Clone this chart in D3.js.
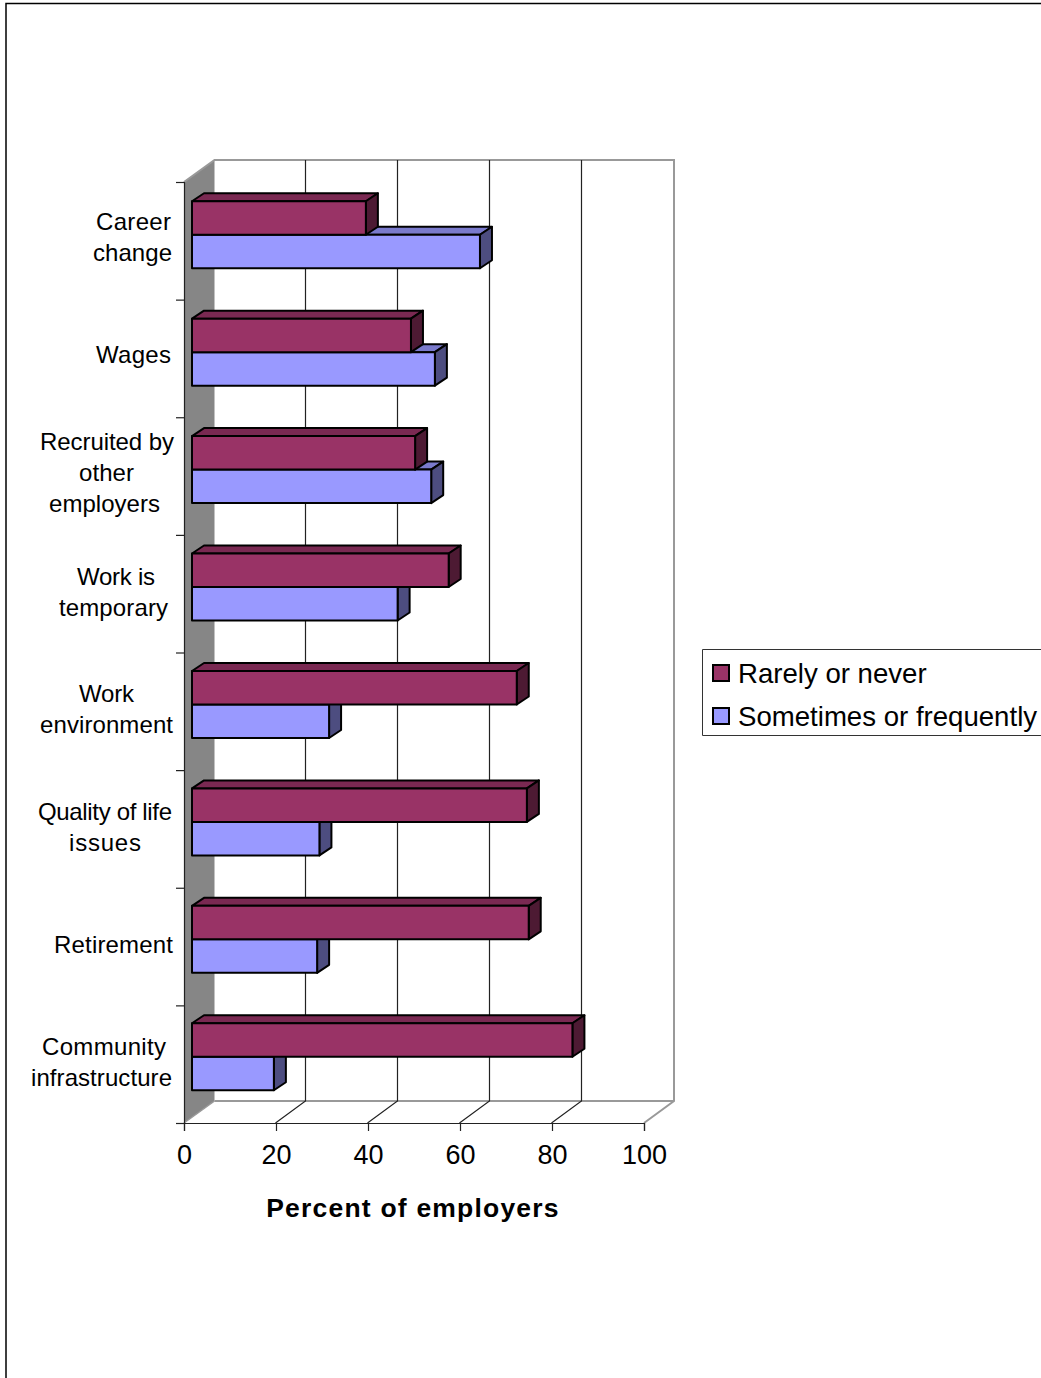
<!DOCTYPE html>
<html>
<head>
<meta charset="utf-8">
<title>Percent of employers</title>
<style>
  html, body { margin: 0; padding: 0; background: #fff; }
  svg { display: block; }
  text { font-family: "Liberation Sans", Arial, sans-serif; fill: #000; }
</style>
<script src="https://cdn.jsdelivr.net/npm/d3@7"></script>
</head>
<body>
<div id="chart"></div>
<script>
// Reasons for employee turnover, top of the chart to the bottom
const categories = [
  "Career change", "Wages", "Recruited by other employers", "Work is temporary",
  "Work environment", "Quality of life issues", "Retirement", "Community infrastructure"
];
const categoryLines = [
  ["Career", "change"], ["Wages"], ["Recruited by", "other", "employers"], ["Work is", "temporary"],
  ["Work", "environment"], ["Quality of life", "issues"], ["Retirement"], ["Community", "infrastructure"]
];
const rarelyOrNever = [37.8, 47.6, 48.5, 55.8, 70.6, 72.8, 73.2, 82.7];
const sometimesOrFrequently = [62.6, 52.8, 52, 44.7, 29.8, 27.7, 27.2, 17.8];
const valueTicks = [0, 20, 40, 60, 80, 100];
const seriesNames = ["Rarely or never", "Sometimes or frequently"];

// Left and right ends of each wrapped label line
const lineExtents = [
  [[96, 171], [93, 172]], [[96, 171]], [[40, 174], [79, 134], [49, 160]], [[77, 155], [59, 168]],
  [[79, 134], [40, 173]], [[38, 172], [69, 141]], [[54, 173]], [[42, 166], [31, 172]]
];
// Baseline of the first line of each label
const labelBaselines = [230, 363, 450, 585, 702, 820, 953, 1055];

const W = 1041, H = 1378;
const plot = { left: 184, right: 644, top: 182, bottom: 1123 };
const wall = { dx: 30.5, dy: -22 };     // back wall offset from the front plane
const bar = { inset: 8, lift: -6, dx: 12, dy: -8, half: 33.5 };

const colors = {
  rarely: { front: "#993366", top: "#7a2952", side: "#4d1a33" },
  sometimes: { front: "#9999ff", top: "#7a7acc", side: "#4d4d80" }
};

const svg = d3.select("#chart").append("svg").attr("width", W).attr("height", H);

const x = d3.scaleLinear().domain([0, 100]).range([plot.left, plot.right]);
const y = d3.scaleBand().domain(categories).range([plot.top, plot.bottom - 1.5]);
const yEdges = d3.scaleLinear().domain([0, categories.length]).range([plot.top, plot.bottom]);

// Page frame
svg.append("path").attr("d", `M6,${H}V3.5H${W}`).attr("fill", "none").attr("stroke", "#000").attr("stroke-width", 1.5);

// Side wall
svg.append("polygon")
  .attr("points", [[plot.left, plot.top], [plot.left + wall.dx, plot.top + wall.dy],
                   [plot.left + wall.dx, plot.bottom + wall.dy], [plot.left, plot.bottom]].join(" "))
  .attr("fill", "#868686");

// Back wall and floor outline
const gray = "#999";
svg.append("path")
  .attr("d", `M${plot.left},${plot.top}L${plot.left + wall.dx},${plot.top + wall.dy}H${plot.right + 30}V${plot.bottom + wall.dy}L${plot.right},${plot.bottom}`)
  .attr("fill", "none").attr("stroke", gray).attr("stroke-width", 2);
svg.append("line")
  .attr("x1", plot.left + wall.dx).attr("x2", plot.right + 30)
  .attr("y1", plot.bottom + wall.dy).attr("y2", plot.bottom + wall.dy)
  .attr("stroke", gray).attr("stroke-width", 2);
svg.append("line")
  .attr("x1", plot.left).attr("y1", plot.bottom)
  .attr("x2", plot.left + wall.dx).attr("y2", plot.bottom + wall.dy)
  .attr("stroke", gray).attr("stroke-width", 1.5);

// Gridlines: up the back wall and across the floor
const inner = valueTicks.slice(1, -1);
svg.append("g").selectAll("path").data(inner).join("path")
  .attr("d", d => `M${x(d) - 0.5},${plot.bottom}L${x(d) + 29.5},${plot.bottom + wall.dy}V${plot.top + wall.dy}`)
  .attr("fill", "none").attr("stroke", "#222").attr("stroke-width", 1.2);

// Axes
const xAxis = svg.append("g").attr("transform", `translate(0,${plot.bottom})`)
  .call(d3.axisBottom(x).tickValues(valueTicks).tickSize(8).tickPadding(9));
xAxis.selectAll("text").attr("font-size", 27).attr("dy", "0.9em").style("font-family", '"Liberation Sans", Arial, sans-serif');
const yAxis = svg.append("g").attr("transform", `translate(${plot.left},0)`)
  .call(d3.axisLeft(yEdges).ticks(categories.length).tickFormat("").tickSize(8).tickSizeOuter(8));
svg.selectAll(".domain, .tick line").attr("stroke", "#222").attr("stroke-width", 1.2);

// One extruded bar: top and end faces, then the front
function drawBar(g, value, yTop, height, pal) {
  const x0 = x(0) + bar.inset, x1 = x(value) + bar.inset;
  const y0 = yTop, y1 = yTop + height;
  const face = (points, fill) => g.append("polygon").attr("points", points.join(" "))
    .attr("fill", fill).attr("stroke", "#000").attr("stroke-width", 2).attr("stroke-linejoin", "round");
  face([[x0, y0], [x0 + bar.dx, y0 + bar.dy], [x1 + bar.dx, y0 + bar.dy], [x1, y0]], pal.top);
  face([[x1, y0], [x1 + bar.dx, y0 + bar.dy], [x1 + bar.dx, y1 + bar.dy], [x1, y1]], pal.side);
  face([[x0, y0], [x1, y0], [x1, y1], [x0, y1]], pal.front);
}

const bars = svg.append("g");
categories.forEach((c, i) => {
  const mid = y(c) + y.bandwidth() / 2 + bar.lift;
  // The lower bar goes first so the upper one sits in front of its top face
  drawBar(bars.append("g"), sometimesOrFrequently[i], mid, bar.half, colors.sometimes);
  drawBar(bars.append("g"), rarelyOrNever[i], mid - bar.half, bar.half, colors.rarely);
});

// Category labels, each line stretched to its own extent
const lineHeight = 31;
const labels = svg.append("g").attr("font-size", 24);
categories.forEach((c, i) => {
  categoryLines[i].forEach((line, j) => {
    const [a, b] = lineExtents[i][j];
    labels.append("text")
      .attr("x", a).attr("y", labelBaselines[i] + j * lineHeight)
      .attr("textLength", b - a).attr("lengthAdjust", "spacing")
      .text(line);
  });
});

// Axis title
svg.append("text").attr("x", 413).attr("y", 1217).attr("text-anchor", "middle")
  .attr("font-size", 26.5).attr("font-weight", "bold").attr("letter-spacing", 1.2)
  .text("Percent of employers");

// Legend, running off the right edge of the page
const legend = svg.append("g");
legend.append("path").attr("d", `M${W},649.5H702.5V735.5H${W}`)
  .attr("fill", "#fff").attr("stroke", "#333").attr("stroke-width", 1);
const legendColors = [colors.rarely.front, colors.sometimes.front];
seriesNames.forEach((name, i) => {
  const cy = 673 + i * 43;
  legend.append("rect").attr("x", 713).attr("y", cy - 8).attr("width", 16).attr("height", 16)
    .attr("fill", legendColors[i]).attr("stroke", "#000").attr("stroke-width", 2);
  legend.append("text").attr("x", 738).attr("y", cy + 9.5).attr("font-size", 27.6).text(name);
});
</script>
</body>
</html>
